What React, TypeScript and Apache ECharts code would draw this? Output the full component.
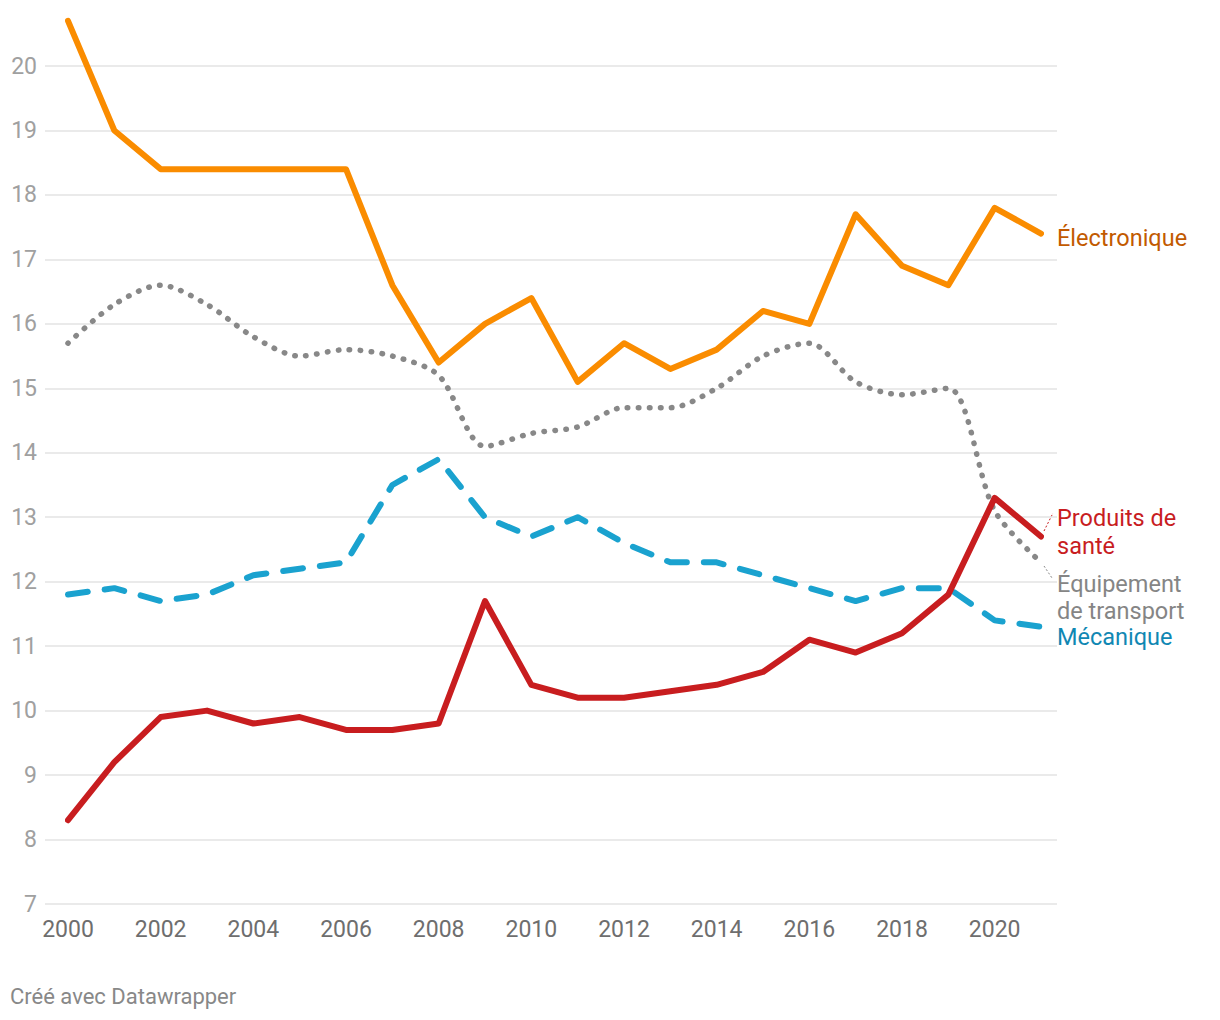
import React, { useEffect, useRef } from "react";
import * as echarts from "echarts";

const years = ["2000","2001","2002","2003","2004","2005","2006","2007","2008","2009","2010","2011","2012","2013","2014","2015","2016","2017","2018","2019","2020","2021"];
const electronique = [20.7,19.0,18.4,18.4,18.4,18.4,18.4,16.6,15.4,16.0,16.4,15.1,15.7,15.3,15.6,16.2,16.0,17.7,16.9,16.6,17.8,17.4];
const transport = [15.7,16.3,16.6,16.3,15.8,15.5,15.6,15.5,15.2,14.1,14.3,14.4,14.7,14.7,15.0,15.5,15.7,15.1,14.9,15.0,13.1,12.3];
const mecanique = [11.8,11.9,11.7,11.8,12.1,12.2,12.3,13.5,13.9,13.0,12.7,13.0,12.6,12.3,12.3,12.1,11.9,11.7,11.9,11.9,11.4,11.3];
const sante = [8.3,9.2,9.9,10.0,9.8,9.9,9.7,9.7,9.8,11.7,10.4,10.2,10.2,10.3,10.4,10.6,11.1,10.9,11.2,11.8,13.3,12.7];
const yMin = 7;
const yMax = 20;

const FONT = "Roboto, 'Noto Sans', sans-serif";

export default function App() {
  const ref = useRef<HTMLDivElement>(null);
  useEffect(() => {
    document.body.style.margin = "0";
    const chart = echarts.init(ref.current!, undefined, { renderer: "svg" });
    const endLabel = (text: string, color: string, offset: number[], lineHeight = 28) => ({
      show: true,
      formatter: text,
      color,
      fontSize: 23.5,
      lineHeight,
      fontFamily: FONT,
      distance: 0,
      offset,
      align: "left",
      verticalAlign: "middle",
    });
    chart.setOption({
      animation: false,
      textStyle: { fontFamily: FONT },
      grid: [
        { left: 45, right: 163, top: 66, bottom: 116 },
        { left: 68, right: 179, top: 66, bottom: 116 },
      ],
      xAxis: [
        { type: "value", gridIndex: 0, show: false, min: 0, max: 1 },
        {
          type: "category",
          gridIndex: 1,
          data: years,
          boundaryGap: false,
          axisLine: { show: false },
          axisTick: { show: false },
          axisLabel: { interval: 1, color: "#6e6e6e", fontSize: 23, margin: 14, fontFamily: FONT },
          splitLine: { show: false },
        },
      ],
      yAxis: [
        {
          type: "value",
          gridIndex: 0,
          min: yMin,
          max: yMax,
          interval: 1,
          axisLine: { show: false },
          axisTick: { show: false },
          axisLabel: { color: "#a0a0a0", fontSize: 23, margin: 8, fontFamily: FONT },
          splitLine: { lineStyle: { color: "#e3e3e3", width: 1.5 } },
        },
        { type: "value", gridIndex: 1, min: yMin, max: yMax, show: false, splitLine: { show: false } },
      ],
      series: [
        {
          name: "Mécanique",
          type: "line",
          xAxisIndex: 1,
          yAxisIndex: 1,
          data: mecanique,
          clip: false,
          showSymbol: false,
          symbol: "none",
          lineStyle: { color: "#1aa2cf", width: 6, type: [20, 17], cap: "round", join: "round" },
          endLabel: endLabel("Mécanique", "#1087b3", [16, 10], 22),
          z: 2,
        },
        {
          name: "Équipement de transport",
          type: "line",
          xAxisIndex: 1,
          yAxisIndex: 1,
          data: transport,
          clip: false,
          smooth: 0.3,
          showSymbol: false,
          symbol: "none",
          lineStyle: { color: "#888888", width: 5.5, type: [0.5, 10.5], cap: "round", join: "round" },
          endLabel: endLabel("Équipement\nde transport", "#858585", [16, 35], 27),
          z: 3,
        },
        {
          name: "Produits de santé",
          type: "line",
          xAxisIndex: 1,
          yAxisIndex: 1,
          data: sante,
          clip: false,
          showSymbol: false,
          symbol: "none",
          lineStyle: { color: "#c81d1f", width: 6, cap: "round", join: "round" },
          endLabel: endLabel("Produits de\nsanté", "#c81d1f", [16, -5]),
          z: 4,
        },
        {
          name: "Électronique",
          type: "line",
          xAxisIndex: 1,
          yAxisIndex: 1,
          data: electronique,
          clip: false,
          showSymbol: false,
          symbol: "none",
          lineStyle: { color: "#fa8c00", width: 6, cap: "round", join: "round" },
          endLabel: endLabel("Électronique", "#c25a00", [16, 4]),
          z: 5,
        },
      ],
      graphic: [
        {
          type: "line",
          shape: { x1: 1044, y1: 531, x2: 1053, y2: 513 },
          style: { stroke: "#c81d1f", lineWidth: 1, lineDash: [2, 2] },
        },
        {
          type: "line",
          shape: { x1: 1044, y1: 566, x2: 1052, y2: 578 },
          style: { stroke: "#888888", lineWidth: 1, lineDash: [2, 2] },
        },
        {
          type: "text",
          left: 10,
          top: 985,
          style: { text: "Créé avec Datawrapper", fill: "#888888", fontSize: 22, fontFamily: FONT },
        },
      ],
    });
    return () => chart.dispose();
  }, []);
  return <div ref={ref} style={{ width: 1220, height: 1020 }} />;
}
